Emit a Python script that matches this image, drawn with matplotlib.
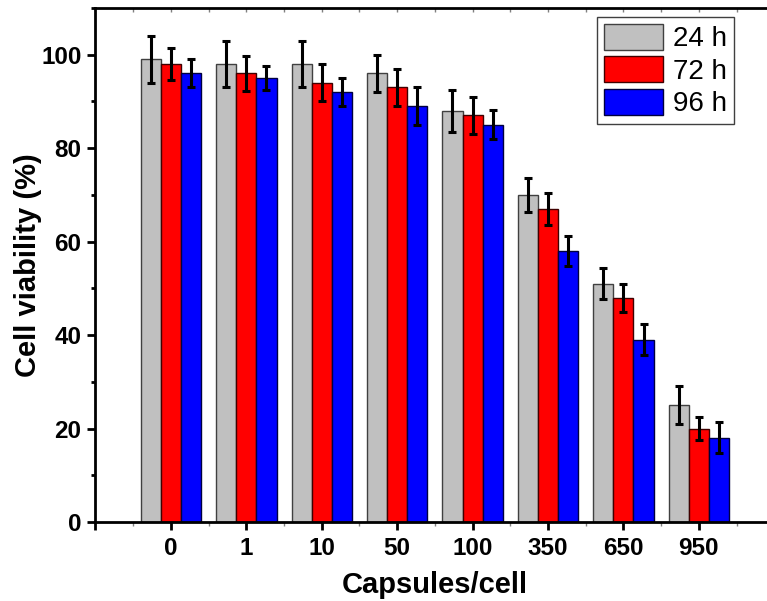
import matplotlib
matplotlib.use("Agg")
import matplotlib.pyplot as plt
from matplotlib.ticker import MultipleLocator, FixedLocator
import numpy as np

plt.rcParams["font.family"] = ["Liberation Sans", "DejaVu Sans"]

# data
doses = ["0", "1", "10", "50", "100", "350", "650", "950"]
series = ["24 h", "72 h", "96 h"]
viab_24h = [99, 98, 98, 96, 88, 70, 51, 25]
viab_72h = [98, 96, 94, 93, 87, 67, 48, 20]
viab_96h = [96, 95, 92, 89, 85, 58, 39, 18]
err_24h = [5.0, 5.0, 5.0, 4.0, 4.5, 3.6, 3.3, 4.0]
err_72h = [3.5, 3.7, 4.0, 4.0, 4.0, 3.5, 3.0, 2.5]
err_96h = [3.0, 2.6, 3.0, 4.0, 3.1, 3.2, 3.3, 3.3]

colors = ["#c0c0c0", "#ff0000", "#0000ff"]
edges = ["#404040", "#400000", "#000040"]

fig = plt.figure(figsize=(7.67, 6.01), dpi=100)
ax = fig.add_axes([0.1245, 0.1315, 0.885, 0.8552])

x = np.arange(1, len(doses) + 1)
w = 0.8 / 3
vals = [viab_24h, viab_72h, viab_96h]
errs = [err_24h, err_72h, err_96h]
for k in range(3):
    ax.bar(x + (k - 1) * w, vals[k], width=w, color=colors[k],
           edgecolor=edges[k], linewidth=1.0, label=series[k], zorder=2)
    ax.errorbar(x + (k - 1) * w, vals[k], yerr=errs[k], fmt="none",
                ecolor="black", elinewidth=2.2, capsize=3.2, capthick=2.2,
                zorder=3)

ax.set_xlim(0, 9)
ax.set_ylim(0, 110)

ax.set_xticks(range(0, 9))
ax.set_xticklabels([""] + doses)
ax.xaxis.set_minor_locator(FixedLocator(np.arange(0.5, 9, 1.0)))
ax.yaxis.set_major_locator(FixedLocator([0, 20, 40, 60, 80, 100]))
ax.yaxis.set_minor_locator(MultipleLocator(10))

for sp in ax.spines.values():
    sp.set_linewidth(2)
ax.spines["right"].set_visible(False)

ax.tick_params(axis="both", which="major", direction="out", length=6,
               width=2, labelsize=17.5, pad=4)
ax.tick_params(axis="x", which="major", pad=5)
ax.tick_params(axis="y", which="minor", direction="out", length=3, width=2)
ax.tick_params(axis="x", which="minor", direction="out", length=3,
               width=1, color="#808080")
for lab in ax.get_xticklabels() + ax.get_yticklabels():
    lab.set_fontweight("bold")

top = ax.secondary_xaxis("top")
top.set_xticks(np.arange(0.5, 9, 0.5))
top.tick_params(direction="in", length=3, width=1, color="#808080",
                labeltop=False)
top.spines["top"].set_visible(False)

ax.set_xlabel("Capsules/cell", fontsize=21, fontweight="bold", labelpad=8)
ax.set_ylabel("Cell viability (%)", fontsize=21, fontweight="bold")
ax.yaxis.set_label_coords(-0.079, 0.5)

leg = ax.legend(loc="upper right", bbox_to_anchor=(734 / 767, 1 - 17 / 601),
                bbox_transform=fig.transFigure, borderaxespad=0,
                fontsize=20, fancybox=False, edgecolor="#404040",
                framealpha=1, handlelength=2.15, handleheight=1.05,
                labelspacing=0.15, handletextpad=0.35, borderpad=0.25)
leg.get_frame().set_linewidth(1.0)

fig.savefig("out.png", dpi=100)
